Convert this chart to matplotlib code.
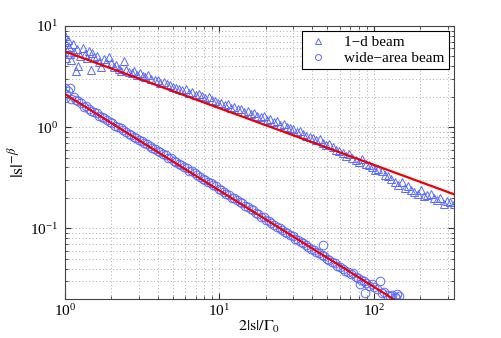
import matplotlib.pyplot as plt
import matplotlib as mpl

mpl.rc('font', family='Liberation Serif', size=11)
mpl.rc('mathtext', fontset='stix')

# ---------------------------  1-d beam (triangles)
tri_x = [1.00, 1.00, 1.01, 1.02, 1.04, 1.06, 1.08, 1.10, 1.12, 1.15, 1.17, 1.20, 1.22, 1.26,
         1.30, 1.34, 1.38, 1.42, 1.47, 1.50, 1.55, 1.60, 1.66, 1.72, 1.78, 1.84, 1.92, 2.00,
         2.07, 2.15, 2.24, 2.32, 2.40, 2.50, 2.60, 2.70, 2.80, 2.92, 3.05, 3.18, 3.32, 3.47,
         3.62, 3.80, 3.98, 4.15, 4.35, 4.55, 4.78, 5.00, 5.25, 5.50, 5.75, 6.05, 6.35, 6.65,
         7.00, 7.35, 7.70, 8.10, 8.50, 8.90, 9.35, 9.80, 10.3, 10.8, 11.3, 11.9, 12.5, 13.1,
         13.8, 14.5, 15.2, 16.0, 16.8, 17.6, 18.5, 19.4, 20.4, 21.4, 22.5, 23.6, 24.8, 26.0,
         27.3, 28.7, 30.1, 31.6, 33.2, 34.9, 36.6, 38.5, 40.4, 42.4, 44.5, 46.8, 49.1, 51.6,
         54.2, 56.9, 59.7, 62.7, 65.9, 69.2, 72.6, 76.3, 80.1, 84.1, 88.3, 92.7, 97.4, 102,
         107, 113, 118, 124, 130, 137, 144, 151, 158, 166, 174, 183, 192, 202, 212, 222, 233,
         245, 257, 270, 284, 298, 313, 328]
tri_y = [8.0, 6.9, 5.9, 4.8, 7.3, 6.2, 5.3, 4.6, 6.6, 5.5, 3.6, 5.9, 4.0, 5.1,
         6.1, 5.3, 4.8, 5.7, 3.7, 5.4, 4.9, 5.0, 4.4, 3.9, 4.7, 4.4, 4.9, 4.3,
         3.9, 4.1, 3.8, 3.6, 4.5, 3.7, 3.5, 3.4, 3.6, 3.3, 3.4, 3.2, 3.1, 3.25,
         3.0, 2.9, 2.95, 2.75, 2.8, 2.65, 2.6, 2.5, 2.45, 2.4, 2.35, 2.4, 2.2, 2.25,
         2.1, 2.15, 2.05, 1.95, 2.0, 1.85, 1.8, 1.75, 1.72, 1.65, 1.68, 1.55, 1.58, 1.5,
         1.52, 1.42, 1.45, 1.35, 1.38, 1.3, 1.25, 1.28, 1.18, 1.2, 1.12, 1.15, 1.05, 1.08,
         1.0, 0.98, 0.95, 0.9, 0.92, 0.86, 0.82, 0.8, 0.78, 0.74, 0.76, 0.7, 0.66, 0.68,
         0.63, 0.6, 0.58, 0.55, 0.52, 0.54, 0.5, 0.47, 0.45, 0.48, 0.43, 0.42, 0.4, 0.38,
         0.39, 0.37, 0.34, 0.33, 0.31, 0.29, 0.27, 0.29, 0.25, 0.26, 0.24, 0.23, 0.22, 0.24,
         0.21, 0.215, 0.22, 0.2, 0.19, 0.2, 0.175, 0.185, 0.18, 0.175]

# ---------------------------  wide-area beam (circles)
circ_x = [1.00, 1.00, 1.01, 1.04, 1.08, 1.10, 1.14, 1.18, 1.22, 1.27, 1.32, 1.37, 1.42, 1.48,
          1.54, 1.60, 1.66, 1.73, 1.80, 1.87, 1.95, 2.03, 2.11, 2.20, 2.29, 2.38, 2.48, 2.58,
          2.68, 2.79, 2.90, 3.02, 3.14, 3.27, 3.40, 3.54, 3.68, 3.83, 3.98, 4.14, 4.31, 4.48,
          4.66, 4.85, 5.05, 5.25, 5.46, 5.68, 5.91, 6.15, 6.40, 6.66, 6.93, 7.21, 7.50, 7.80,
          8.11, 8.44, 8.78, 9.13, 9.50, 9.88, 10.3, 10.7, 11.1, 11.6, 12.0, 12.5, 13.0, 13.6,
          14.1, 14.7, 15.3, 15.9, 16.5, 17.2, 17.9, 18.6, 19.3, 20.1, 20.9, 21.7, 22.6, 23.5,
          24.5, 25.4, 26.5, 27.5, 28.6, 29.8, 31.0, 32.2, 33.5, 34.9, 36.3, 37.7, 39.2, 40.8,
          42.4, 44.1, 45.9, 47.0, 47.7, 49.6, 51.6, 53.7, 55.8, 58.0, 60.4, 62.8, 65.3, 67.9,
          70.6, 73.4, 76.3, 79.4, 81.0, 82.6, 85.9, 87.0, 89.3, 92.9, 96.6, 100, 104, 109,
          113, 117, 122, 127, 132, 137, 140, 142, 145]
circ_y = [2.45, 1.95, 2.15, 2.3, 2.45, 1.9, 2.0, 1.85, 1.8, 1.75, 1.6, 1.62, 1.52, 1.45,
          1.4, 1.38, 1.3, 1.27, 1.22, 1.18, 1.12, 1.1, 1.02, 1.0, 0.98, 0.93, 0.9, 0.86,
          0.84, 0.8, 0.79, 0.74, 0.73, 0.7, 0.68, 0.65, 0.62, 0.61, 0.58, 0.57, 0.54, 0.53,
          0.5, 0.49, 0.46, 0.455, 0.43, 0.42, 0.4, 0.395, 0.37, 0.365, 0.35, 0.335, 0.32, 0.31,
          0.3, 0.29, 0.28, 0.265, 0.26, 0.245, 0.24, 0.23, 0.22, 0.215, 0.2, 0.198, 0.19, 0.18,
          0.177, 0.168, 0.163, 0.155, 0.15, 0.143, 0.14, 0.13, 0.128, 0.122, 0.118, 0.112, 0.108, 0.104,
          0.1, 0.097, 0.092, 0.09, 0.086, 0.083, 0.079, 0.077, 0.073, 0.071, 0.068, 0.066, 0.063, 0.061,
          0.058, 0.057, 0.054, 0.068, 0.053, 0.05, 0.049, 0.046, 0.045, 0.042, 0.041, 0.04, 0.038, 0.037,
          0.035, 0.036, 0.033, 0.032, 0.028, 0.031, 0.03, 0.0228, 0.029, 0.027, 0.028, 0.026, 0.025, 0.03,
          0.023, 0.0235, 0.022, 0.0215, 0.022, 0.021, 0.0205, 0.0225, 0.0215]

# fitted power laws (end points)
fit1_x = [1, 330]
fit1_y = [5.6, 0.217]
fit2_x = [1, 145]
fit2_y = [2.12, 0.0185]

blue = '#5a6aff'

fig = plt.figure(figsize=(5.01, 3.38), dpi=100)
ax = fig.add_axes([0.1297, 0.1154, 0.7764, 0.8076])

ax.plot(tri_x, tri_y, '^', mfc='none', mec=blue, ms=6.2, mew=0.7, label='1\u2212d beam')
ax.plot(circ_x, circ_y, 'o', mfc='none', mec=blue, ms=6.2, mew=0.7, label='wide\u2212area beam')
ax.plot(fit1_x, fit1_y, '-', color='#ee0000', lw=1.6)
ax.plot(fit2_x, fit2_y, '-', color='#ee0000', lw=1.6)

ax.set_xscale('log')
ax.set_yscale('log')
ax.set_xlim(1, 330)
ax.set_ylim(0.02, 10)

ax.grid(True, which='both', ls=(0, (1, 2.5)), color='#aaaaaa', lw=0.7)
ax.tick_params(which='both', direction='in', top=True, right=True, colors='#333333',
               labelcolor='black', labelsize=11)
ax.tick_params(which='major', length=4)
ax.tick_params(axis='x', which='major', pad=3)
ax.tick_params(axis='y', which='major', pad=5)
ax.tick_params(which='minor', length=2)
for s in ax.spines.values():
    s.set_color('#444444')
    s.set_linewidth(0.8)

ax.set_xlabel(r'$2|\mathrm{s}|/\Gamma_0$', fontsize=11.5, labelpad=0)
ax.set_ylabel(r'$|\mathrm{s}|^{-\beta}$', fontsize=13, labelpad=2)

leg = ax.legend(loc='upper right', fancybox=False, framealpha=1, edgecolor='black',
                fontsize=11, borderaxespad=0.35, handletextpad=0.9, borderpad=0.25,
                labelspacing=0.15, handlelength=1.6, markerscale=0.7)
leg.get_frame().set_linewidth(0.8)

fig.savefig('out.png', dpi=100)
plt.close(fig)
